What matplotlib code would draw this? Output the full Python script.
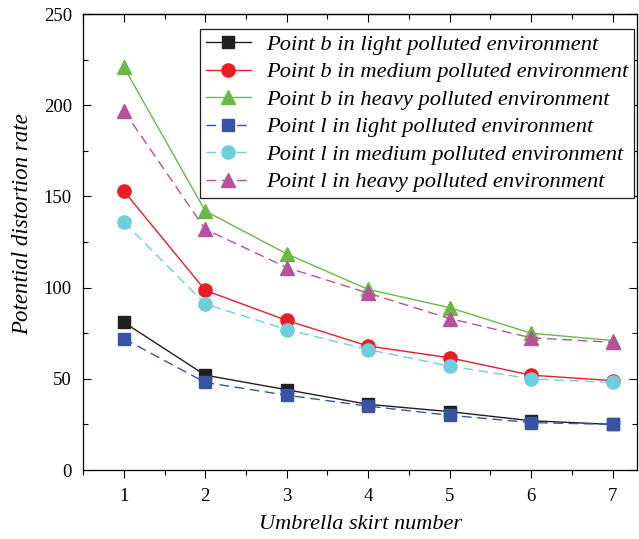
import numpy as np
import matplotlib
matplotlib.use("Agg")
import matplotlib.pyplot as plt
from matplotlib.ticker import MultipleLocator

plt.rcParams['font.family'] = ['Liberation Serif', 'DejaVu Serif']
plt.rcParams['mathtext.fontset'] = 'stix'

skirts = [1, 2, 3, 4, 5, 6, 7]

b_light = [81, 52, 44, 36, 32, 27, 25]
b_medium = [153, 98.5, 82, 68, 61.5, 52, 49]
b_heavy = [221, 142, 118.5, 99, 89, 75, 71]
l_light = [72, 48, 41, 35, 30, 26, 25]
l_medium = [136, 91, 77, 66, 57, 50, 48]
l_heavy = [197, 132, 111, 97, 83, 72.5, 70]

labels = [
    "Point b in light polluted environment",
    "Point b in medium polluted environment",
    "Point b in heavy polluted environment",
    "Point l in light polluted environment",
    "Point l in medium polluted environment",
    "Point l in heavy polluted environment",
]

fig = plt.figure(figsize=(6.39, 5.39), dpi=100)
ax = fig.add_axes([0.130, 0.128, 0.867, 0.846])

# solid = point b, dashed = point l
series = [
    (b_light, '#231f20', 's', '-'),
    (b_medium, '#ed1c24', 'o', '-'),
    (b_heavy, '#6ab946', '^', '-'),
    (l_light, '#3953a4', 's', (0, (7, 4))),
    (l_medium, '#6dcfdc', 'o', (0, (7, 4))),
    (l_heavy, '#b8509e', '^', (0, (7, 4))),
]
for (vals, col, mk, ls), lab in zip(series, labels):
    ax.plot(skirts, vals, color=col, linestyle=ls, linewidth=1.0,
            marker=mk, markersize=9.5 if mk != 's' else 8.5,
            markerfacecolor=col, markeredgecolor=col, label=lab)

ax.set_xlim(0.5, 7.3)
ax.set_ylim(0, 250)
ax.xaxis.set_major_locator(MultipleLocator(1))
ax.xaxis.set_minor_locator(MultipleLocator(0.5))
ax.yaxis.set_major_locator(MultipleLocator(50))
ax.yaxis.set_minor_locator(MultipleLocator(25))
ax.tick_params(which='both', labelsize=13.5, width=0.8)
# x ticks point out, y ticks point in
ax.tick_params(axis='x', which='both', direction='out', pad=7)
ax.tick_params(axis='y', which='both', direction='in', right=True, pad=8)
ax.tick_params(which='major', length=5.8)
ax.tick_params(which='minor', length=3.5)
for s in ax.spines.values():
    s.set_linewidth(0.9)

# mirrored ticks on top, pointing inward
top = ax.secondary_xaxis('top')
top.xaxis.set_major_locator(MultipleLocator(1))
top.xaxis.set_minor_locator(MultipleLocator(0.5))
top.tick_params(which='both', direction='in', labeltop=False, width=0.8)
top.tick_params(which='major', length=5.8)
top.tick_params(which='minor', length=3.5)
top.spines['top'].set_linewidth(0.9)

ax.set_xlabel("Umbrella skirt number", fontsize=16, style='italic', labelpad=7)
ax.set_ylabel("Potential distortion rate", fontsize=16.5, style='italic')
ax.yaxis.set_label_coords(-0.09, 0.539)

leg = ax.legend(loc='upper left', bbox_to_anchor=(0.211, 0.967), borderaxespad=0,
                prop={'style': 'italic', 'size': 16.2},
                fancybox=False, edgecolor='#231f20', framealpha=1,
                handlelength=2.0, labelspacing=0.33, borderpad=0.25, handletextpad=0.7,
                handleheight=0.6)
leg.get_frame().set_linewidth(0.9)

fig.savefig("out.png", dpi=100)
